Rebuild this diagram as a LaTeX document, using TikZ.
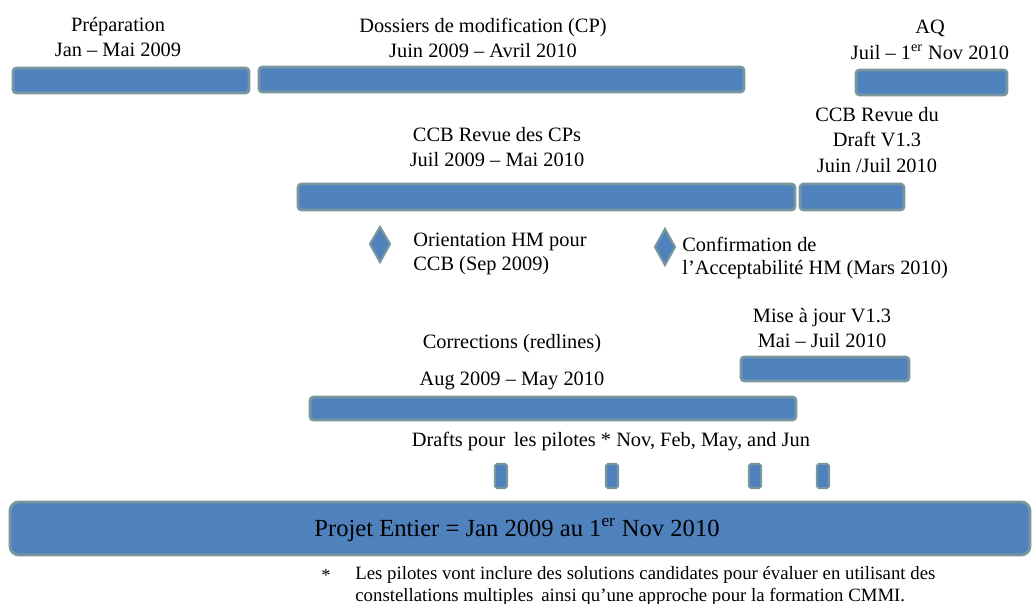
\documentclass[tikz,border=0pt]{standalone}
\usepackage{fontspec}
\setmainfont{Liberation Serif}
\usepackage{tikz}

\definecolor{barblue}{RGB}{79,129,189}
\definecolor{barrim}{RGB}{120,150,158}

\tikzset{
  bar/.style={fill=barblue, draw=barrim, line width=1.6pt, rounded corners=2pt},
  lbl/.style={align=center, inner sep=0pt, font=\fontsize{11.6}{14.5}\selectfont},
  note/.style={align=left, anchor=west, inner sep=0pt, font=\fontsize{11.6}{13.5}\selectfont}
}

\begin{document}
\begin{tikzpicture}[x=0.02cm, y=-0.02cm]
			\useasboundingbox (0,0) rectangle (1035,604); % same size as the slide
			% first row: preparation, change packages, QA
			\draw[bar] (13,68) rectangle (249,93);
			\draw[bar] (259,67) rectangle (744,92);
			\draw[bar] (856,70) rectangle (1007,95);
			\node[lbl] (prep) at (118,37) {Préparation\\ Jan -- Mai 2009};
			\node[lbl] (dossiers) at (483,38) {Dossiers de modification (CP)\\ Juin 2009 -- Avril 2010};
			\node[lbl] (aq) at (930,40) {AQ\\ Juil -- 1\textsuperscript{er} Nov 2010};
			% second row: CCB reviews
			\draw[bar] (298,184) rectangle (795,210);
			\draw[bar] (800,184) rectangle (904,210);
			\node[lbl] (ccbcp) at (497,147) {CCB Revue des CPs\\ Juil 2009 -- Mai 2010};
			\node[lbl] (ccbdraft) at (877,140) {CCB Revue du\\ Draft V1.3\\ Juin /Juil 2010};
			% milestones
			\draw[bar, line width=1.2pt, rounded corners=0pt] (380,227) -- (390,244) -- (380,262) -- (370,244) -- cycle;
			\draw[bar, line width=1.2pt, rounded corners=0pt] (665,229) -- (675,247) -- (665,265) -- (655,247) -- cycle;
			\node[note] (orient) at (413,254) {Orientation HM pour\\ CCB (Sep 2009)};
			\node[note] (confirm) at (682,258) {Confirmation de\\ l'Acceptabilité HM (Mars 2010)};
			% third row: redlines and update
			\draw[bar] (741,357) rectangle (909,381);
			\draw[bar] (310,397) rectangle (796,420);
			\node[lbl] (miseajour) at (822,328) {Mise à jour V1.3\\ Mai -- Juil 2010};
			\node[lbl] (corr) at (512,344) {Corrections (redlines)};
			\node[lbl] (corrdate) at (512,381) {Aug 2009 -- May 2010};
			% drafts for the pilots
			\node[lbl] (drafts) at (611,442) {Drafts pour\, les pilotes * Nov, Feb, May, and Jun};
			\foreach \px in {501,612,755,823}
				\draw[bar, line width=1.2pt, rounded corners=1pt] (\px-6,464) rectangle (\px+6,488);
			% whole project
			\draw[bar, rounded corners=5pt] (10,502) rectangle (1030,555);
			\node[lbl, font=\fontsize{14}{16}\selectfont] (projet) at (517,530) {Projet Entier = Jan 2009 au 1\textsuperscript{er} Nov 2010};
			% footnote
			\node[inner sep=0pt, font=\fontsize{10.5}{12}\selectfont] (star) at (326,575) {*};
			\node[note, font=\fontsize{10.7}{12}\selectfont] (foot) at (355,586) {Les pilotes vont inclure des solutions candidates pour évaluer en utilisant des\\ constellations multiples\, ainsi qu'une approche pour la formation CMMI.};
		\end{tikzpicture}
\end{document}
